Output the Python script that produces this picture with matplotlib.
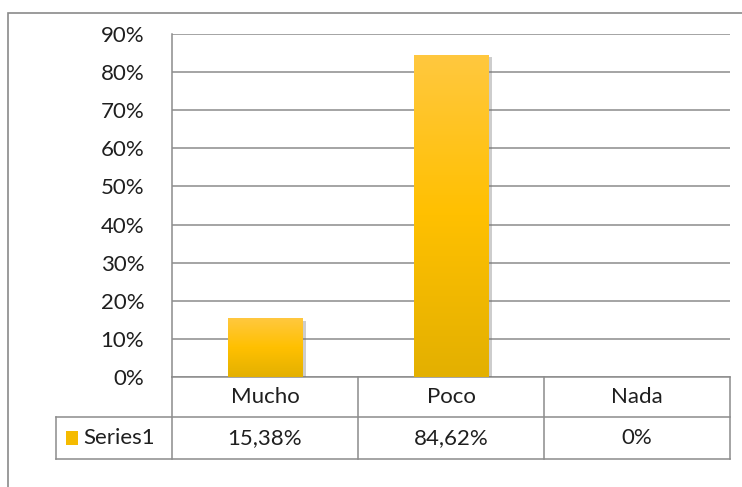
import matplotlib.pyplot as plt
import matplotlib.patheffects as pe
from matplotlib.transforms import blended_transform_factory
from matplotlib.colors import LinearSegmentedColormap
from matplotlib.patches import Rectangle
import numpy as np

categories = ['Mucho', 'Poco', 'Nada']
values = [15.38, 84.62, 0]
value_labels = ['15,38%', '84,62%', '0%']
series_name = 'Series1'

plt.rcParams['font.family'] = ['Lato', 'DejaVu Sans']
line_col = '#8c8c8c'
txt_col = '#1f1f1f'
fs = 16

fig = plt.figure(figsize=(7.42, 4.87), dpi=100)
ax = fig.add_axes([172/742, 1 - 377/487, 558/742, 343/487])

# outer chart border (top + left only visible)
fig.patches.append(Rectangle((8/742, -0.1), 1.2, 1 - 13/487 + 0.1, transform=fig.transFigure,
                             fill=False, edgecolor='#8a8a8a', lw=1.2))

x = np.arange(len(categories))
bars = ax.bar(x, values, width=0.4, color='#ffc000', zorder=3,
              path_effects=[pe.SimplePatchShadow(offset=(2.5, -2), shadow_rgbFace='#707070', alpha=0.35),
                            pe.Normal()])

# vertical gradient inside bars
grad = LinearSegmentedColormap.from_list('g', ['#e3b000', '#ffc000', '#ffc83f'])
for b in bars:
    if b.get_height() <= 0:
        continue
    x0, y0 = b.get_x(), b.get_y()
    im = ax.imshow(np.linspace(0, 1, 256).reshape(-1, 1), cmap=grad, origin='lower', aspect='auto',
                   extent=[x0, x0 + b.get_width(), y0, y0 + b.get_height()], zorder=4)
    im.set_clip_path(b)

ax.set_xlim(-0.5, 2.5)
ax.set_ylim(0, 90)
ax.set_yticks(np.arange(0, 91, 10))
ax.set_yticklabels([f'{t}%' for t in range(0, 91, 10)], fontsize=fs, color=txt_col)
ax.set_xticks([])
ax.yaxis.grid(True, color=line_col, lw=1.1, zorder=0)
ax.tick_params(axis='y', length=0, pad=20)
for s in ['top', 'right']:
    ax.spines[s].set_visible(False)
ax.spines['left'].set_color(line_col)
ax.spines['bottom'].set_color(line_col)
ax.spines['left'].set_linewidth(1.1)
ax.spines['bottom'].set_linewidth(1.1)

# data table below the axis
tr = blended_transform_factory(ax.transData, ax.transAxes)
r1 = -40/343
r2 = -82/343
left_x = -0.5 - 116/186
kw = dict(color=line_col, lw=1.1, transform=tr, clip_on=False)
for xv in [-0.5, 0.5, 1.5, 2.5]:
    ax.plot([xv, xv], [0, r2], **kw)
ax.plot([left_x, left_x], [r1, r2], **kw)
ax.plot([left_x, 2.5], [r1, r1], **kw)
ax.plot([left_x, 2.5], [r2, r2], **kw)

for i, c in enumerate(categories):
    ax.text(i, r1 / 2, c, transform=tr, ha='center', va='center', fontsize=fs, color=txt_col)
    ax.text(i, (r1 + r2) / 2, value_labels[i], transform=tr, ha='center', va='center',
            fontsize=fs, color=txt_col)

ax.add_patch(Rectangle((left_x + 10/186, (r1 + r2) / 2 - 7/343), 12/186, 14/343, transform=tr,
                       clip_on=False, facecolor='#f5bb00', edgecolor='none'))
ax.text(left_x + 27/186, (r1 + r2) / 2, series_name, transform=tr, ha='left', va='center',
        fontsize=fs, color=txt_col)

fig.savefig('out.png', dpi=100)
